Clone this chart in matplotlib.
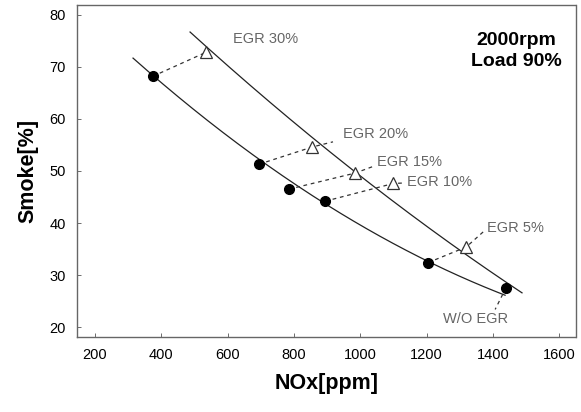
import numpy as np
import matplotlib
matplotlib.use("Agg")
import matplotlib.pyplot as plt

plt.rcParams['font.family'] = ['Liberation Sans', 'DejaVu Sans']

# --- data ---
nox_circle = [375, 695, 785, 895, 1205, 1440]
smoke_circle = [68.2, 51.3, 46.5, 44.2, 32.4, 27.6]

egr_labels = ["EGR 30%", "EGR 20%", "EGR 15%", "EGR 10%", "EGR 5%"]
nox_tri = [535, 855, 985, 1100, 1320]
smoke_tri = [72.8, 54.6, 49.6, 47.6, 35.4]

# label anchor positions (data coords) and leader-line ends
label_x = [615, 948, 1050, 1142, 1383]
label_y = [75.4, 57.2, 51.8, 47.9, 39.0]
lead_x = [535, 918, 1036, 1135, 1371]
lead_y = [72.8, 55.6, 50.8, 47.7, 38.3]

woegr_label = "W/O EGR"
woegr_x, woegr_y = 1250, 21.6
woegr_lead = (1407, 23.4)

# trend curves
lower_curve_x = [315, 600, 900, 1200, 1437]
lower_curve_y = [71.8, 56.5, 43.5, 33.0, 26.0]
upper_curve_x = [487, 737, 988, 1238, 1488]
upper_curve_y = [76.7, 62.7, 49.7, 37.6, 26.6]

xticks = [200, 400, 600, 800, 1000, 1200, 1400, 1600]
yticks = [20, 30, 40, 50, 60, 70, 80]

fig = plt.figure(figsize=(5.81, 4.12), dpi=100)
ax = fig.add_axes([0.1325, 0.182, 0.859, 0.806])

# smooth trend curves
for cx, cy in ((lower_curve_x, lower_curve_y), (upper_curve_x, upper_curve_y)):
    c = np.polyfit(cx, cy, 2)
    xs = np.linspace(cx[0], cx[-1], 200)
    ax.plot(xs, np.polyval(c, xs), color='#222222', lw=0.9)

# dashed connectors
for i in range(len(nox_tri)):
    ax.plot([nox_circle[i], nox_tri[i], lead_x[i]],
            [smoke_circle[i], smoke_tri[i], lead_y[i]],
            color='#333333', lw=0.9, ls=(0, (3, 3)))
    ax.text(label_x[i], label_y[i], egr_labels[i], ha='left', va='center',
            fontsize=10.5, color='#666666')
ax.plot([nox_circle[-1], woegr_lead[0]], [smoke_circle[-1], woegr_lead[1]],
        color='#333333', lw=0.9, ls=(0, (3, 3)))
ax.text(woegr_x, woegr_y, woegr_label, ha='left', va='center',
        fontsize=10.5, color='#666666')

ax.plot(nox_circle, smoke_circle, 'o', color='black', ms=7, zorder=5)
ax.plot(nox_tri, smoke_tri, '^', mfc='white', mec='#333333', mew=0.9, ms=8.5, zorder=5)

ax.text(0.88, 0.86, "2000rpm\nLoad 90%", transform=ax.transAxes,
        ha='center', va='center', fontsize=14, fontweight='bold',
        linespacing=1.3)

ax.set_xlim(146, 1651)
ax.set_ylim(18.1, 81.9)
ax.set_xticks(xticks)
ax.set_yticks(yticks)
ax.tick_params(direction='in', length=3, width=0.6, labelsize=10.5, pad=8,
               color='#555555')
for s in ax.spines.values():
    s.set_color('#666666')
    s.set_linewidth(1.0)
    s.set_linestyle((0, (1, 1)))

ax.set_xlabel("NOx[ppm]", fontsize=15.5, fontweight='bold', labelpad=8)
ax.set_ylabel("Smoke[%]", fontsize=15.5, fontweight='bold', labelpad=8)

fig.savefig("out.png", dpi=100)
